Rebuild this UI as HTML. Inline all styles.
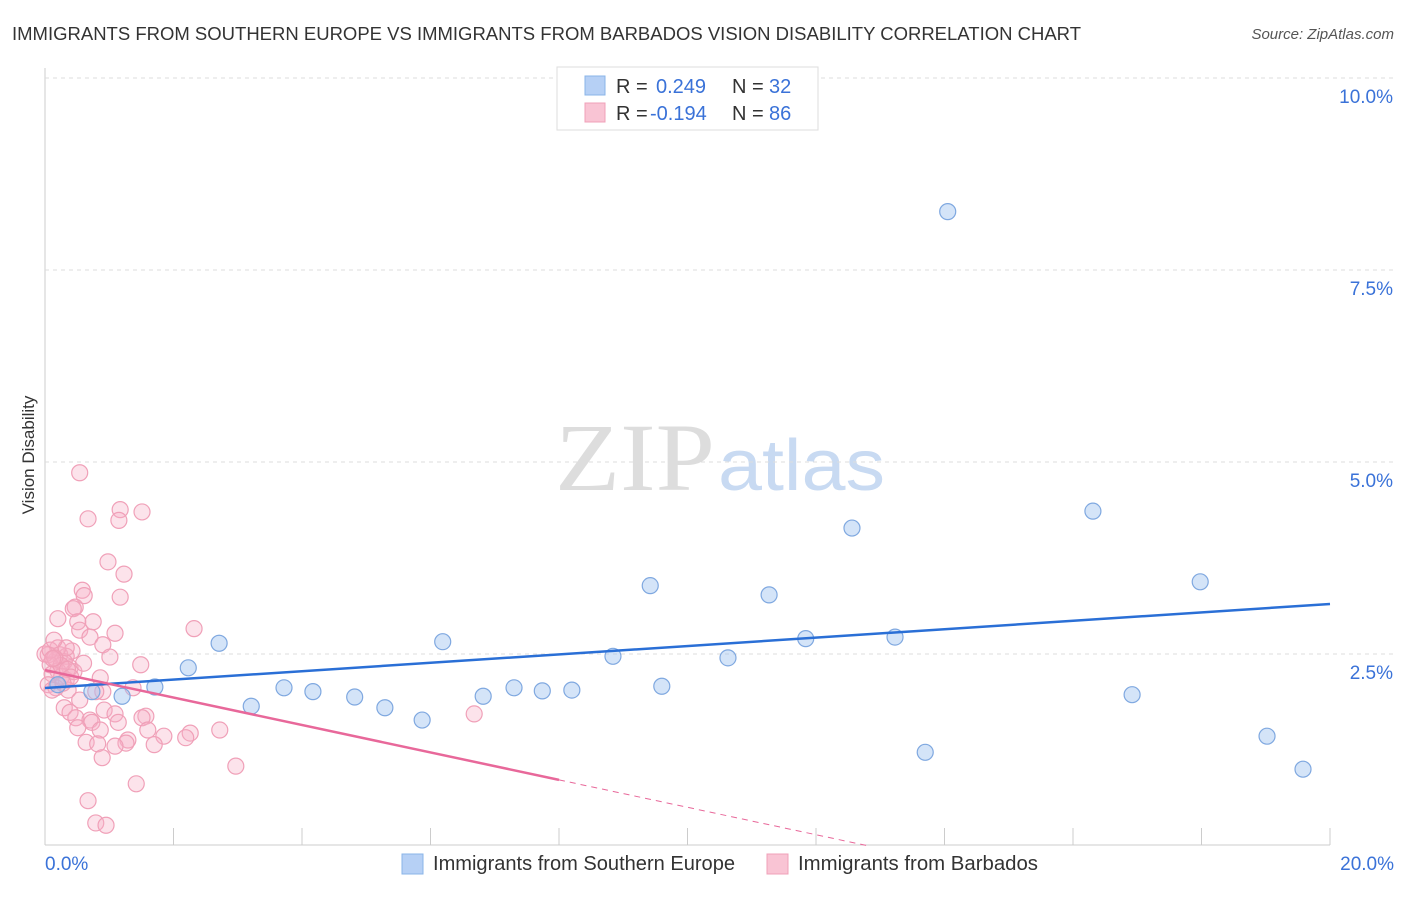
<!DOCTYPE html>
<html><head><meta charset="utf-8"><style>
body{margin:0;background:#fff;font-family:"Liberation Sans",sans-serif}
</style></head><body>
<svg id="c" width="1406" height="892" xmlns="http://www.w3.org/2000/svg" style="font-family:'Liberation Sans',sans-serif">
<text x="12" y="40" font-size="18" fill="#333" textLength="1069" lengthAdjust="spacingAndGlyphs">IMMIGRANTS FROM SOUTHERN EUROPE VS IMMIGRANTS FROM BARBADOS VISION DISABILITY CORRELATION CHART</text>
<text x="1394" y="39" font-size="15" fill="#555" text-anchor="end" font-style="italic">Source: ZipAtlas.com</text>
<text x="555" y="490" font-size="96" fill="#ddd" textLength="160" lengthAdjust="spacingAndGlyphs" font-family="Liberation Serif">ZIP</text>
<text x="718" y="490" font-size="72" fill="#c8daf2" textLength="167" lengthAdjust="spacingAndGlyphs">atlas</text>
<text x="34" y="455" font-size="17" fill="#333" text-anchor="middle" transform="rotate(-90 34 455)">Vision Disability</text>
<g id="grid"></g><g id="pts"></g><g id="lines"></g>
<g>
<rect x="557" y="67" width="261" height="63" fill="#fff" stroke="#ddd"/>
<rect x="585" y="76" width="20" height="19" fill="#b6d0f5" stroke="#8ab4e8"/>
<rect x="585" y="103" width="20" height="19" fill="#f9c4d4" stroke="#f0a0b8"/>
<text x="616" y="93" font-size="20" fill="#333">R = <tspan x="656" fill="#3a72d8">0.249</tspan><tspan x="732">N = </tspan><tspan x="769" fill="#3a72d8">32</tspan></text>
<text x="616" y="120" font-size="20" fill="#333">R = <tspan x="650" fill="#3a72d8">-0.194</tspan><tspan x="732">N = </tspan><tspan x="769" fill="#3a72d8">86</tspan></text>
</g>
<g>
<rect x="402" y="854" width="21" height="20" fill="#b6d0f5" stroke="#8ab4e8"/>
<text x="433" y="870" font-size="20" fill="#333" textLength="302" lengthAdjust="spacingAndGlyphs">Immigrants from Southern Europe</text>
<rect x="767" y="854" width="21" height="20" fill="#f9c4d4" stroke="#f0a0b8"/>
<text x="798" y="870" font-size="20" fill="#333" textLength="240" lengthAdjust="spacingAndGlyphs">Immigrants from Barbados</text>
</g>
</svg>
<script>
const xTicks=[0,2,4,6,8,10,12,14,16,18,20];
const yTicks=[2.5,5,7.5,10];
const yTickLabels=["2.5%","5.0%","7.5%","10.0%"];
const blueX=[14.05,12.56,16.31,17.98,9.42,11.27,2.71,6.19,8.84,10.63,11.84,13.23,2.23,1.71,1.20,0.73,3.72,4.17,4.82,5.29,5.87,6.82,7.30,7.74,8.20,9.60,3.21,16.92,13.70,19.02,19.58,0.2];
const blueY=[8.26,4.14,4.36,3.44,3.39,3.27,2.64,2.66,2.47,2.45,2.70,2.72,2.32,2.07,1.95,2.01,2.06,2.01,1.94,1.80,1.64,1.95,2.06,2.02,2.03,2.08,1.82,1.97,1.22,1.43,1.00,2.1];
const pinkX=[.54,.67,1.17,1.51,1.15,.98,1.23,.58,.61,1.17,.47,.44,.20,.51,.75,.54,.70,2.32,1.09,.90,.42,.05,.23,.33,.17,.30,.08,.39,.20,.11,.26,.33,1.01,1.49,.86,.05,.17,.36,.90,.79,1.37,.54,.30,.39,.92,1.09,1.57,.48,.70,.73,1.14,1.51,1.60,.51,.86,2.72,2.26,2.19,1.85,1.29,1.26,1.70,.64,.82,1.09,.89,2.97,1.42,.67,.79,.95,6.68,.11,.20,0,.08,.33,.45,.14,.25,.35,.15,.4,.6,.28,.12];
const pinkY=[4.86,4.26,4.38,4.35,4.24,3.70,3.54,3.33,3.26,3.24,3.11,3.09,2.96,2.92,2.92,2.81,2.72,2.83,2.77,2.62,2.54,2.49,2.49,2.47,2.42,2.40,2.36,2.32,2.28,2.24,2.21,2.16,2.46,2.36,2.19,2.10,2.06,2.03,2.01,2.01,2.06,1.90,1.80,1.74,1.77,1.72,1.69,1.67,1.64,1.61,1.61,1.67,1.51,1.54,1.51,1.51,1.47,1.41,1.43,1.38,1.34,1.32,1.35,1.33,1.30,1.15,1.04,.81,.59,.30,.27,1.72,2.03,2.58,2.50,2.55,2.58,2.27,2.68,2.35,2.3,2.45,2.2,2.38,2.12,2.44];
const blueTrend=[2.057,3.151];
const pinkTrend=[2.29,-0.1786];
const X=v=>45+v/20*1285, Y=v=>846-v*76.8;
const NS="http://www.w3.org/2000/svg";
function mk(t,a,p){const e=document.createElementNS(NS,t);for(const k in a)e.setAttribute(k,a[k]);p.appendChild(e);return e;}
const g=document.getElementById('grid'),pts=document.getElementById('pts'),ln=document.getElementById('lines'),svg=document.getElementById('c');
mk('line',{x1:45,y1:68,x2:45,y2:845,stroke:'#ccc'},g);
mk('line',{x1:45,y1:845,x2:1330,y2:845,stroke:'#ccc'},g);
yTicks.forEach((v,i)=>{
 const l=mk('line',{x1:45,y1:Y(v),x2:1394,y2:Y(v),stroke:'#ddd','stroke-dasharray':'4,4'},g);
 
 
 const t=mk('text',{x:1393,y:Y(v)+25,'font-size':19,fill:'#3a72d8','text-anchor':'end'},g);
 t.textContent=yTickLabels[i];
 
 
});
xTicks.forEach(v=>{
 const l=mk('line',{x1:X(v),y1:828,x2:X(v),y2:845,stroke:'#ccc'},g);
 
 
});
let t=mk('text',{x:45,y:870,'font-size':19,fill:'#3a72d8'},g);t.textContent='0.0%';


t=mk('text',{x:1394,y:870,'font-size':19,fill:'#3a72d8','text-anchor':'end'},g);t.textContent='20.0%';


pinkX.forEach((x,i)=>{
 const c=mk('circle',{cx:X(x),cy:Y(pinkY[i]),r:8,fill:'rgba(246,175,198,0.35)',stroke:'#f0a0b8','stroke-width':1.2},pts);
 
 
});
blueX.forEach((x,i)=>{
 const c=mk('circle',{cx:X(x),cy:Y(blueY[i]),r:8,fill:'rgba(160,196,240,0.45)',stroke:'#7fa8e0','stroke-width':1.2},pts);
 
 
});
let l=mk('line',{x1:X(0),y1:Y(blueTrend[0]),x2:X(20),y2:Y(blueTrend[1]),stroke:'#2a6fd6','stroke-width':2.5},ln);


const pf=x=>pinkTrend[0]+pinkTrend[1]*x;
l=mk('line',{x1:X(0),y1:Y(pf(0)),x2:X(8),y2:Y(pf(8)),stroke:'#e8689a','stroke-width':2.5},ln);


const x0=-pinkTrend[0]/pinkTrend[1];
l=mk('line',{x1:X(8),y1:Y(pf(8)),x2:X(x0),y2:Y(0),stroke:'#e8689a','stroke-width':1,'stroke-dasharray':'6,5'},ln);


</script>
</body></html>
